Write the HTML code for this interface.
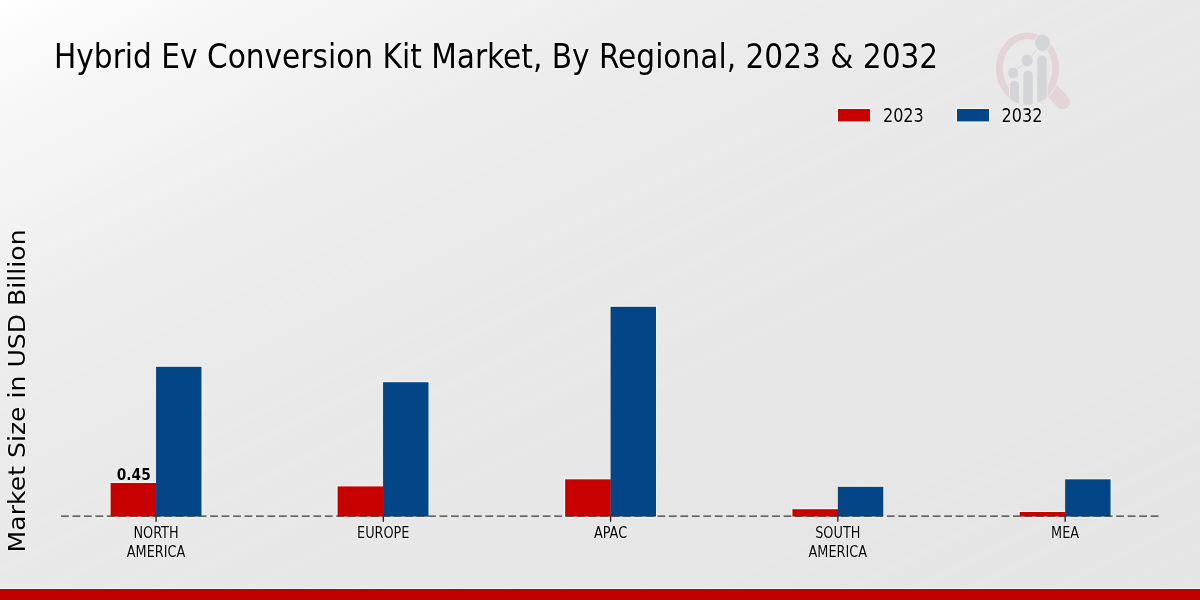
<!DOCTYPE html>
<html>
<head>
<meta charset="utf-8">
<title>Hybrid Ev Conversion Kit Market, By Regional, 2023 &amp; 2032</title>
<style>
html,body{margin:0;padding:0;}
body{width:1200px;height:600px;overflow:hidden;position:relative;
  background:repeating-linear-gradient(153.43deg,rgba(255,255,255,0) 0px,rgba(255,255,255,0.06) 7px,rgba(255,255,255,0) 14px,rgba(255,255,255,0) 30px,rgba(255,255,255,0.06) 35px,rgba(255,255,255,0) 40px,rgba(255,255,255,0) 52px,rgba(255,255,255,0.06) 60px,rgba(255,255,255,0) 68px,rgba(255,255,255,0) 90px),
    linear-gradient(to bottom right,#ffffff 0%,#f8f8f8 8%,#f3f3f3 17%,#ececec 30%,#e9e9e9 45%,#e6e6e6 70%,#e4e4e4 100%);
  font-family:"DejaVu Sans Condensed","DejaVu Sans","Liberation Sans",sans-serif;font-stretch:condensed;color:#000;}
.abs{position:absolute;white-space:nowrap;line-height:1;}
.xl,.leg,#val,#ylabel,#title{text-shadow:0 0 1px #fff,0 0 1.5px #fff,0 0 2px rgba(255,255,255,.8);}
#title{left:54.0px;top:40.2px;font-size:32.95px;transform-origin:0 0;transform:scaleY(1.042);}
#ylabel{left:0;top:0;font-family:"DejaVu Sans","Liberation Sans",sans-serif;font-stretch:normal;font-size:22.3px;
  transform-origin:0 0;transform:translate(5.85px,552.4px) rotate(-90deg) scaleX(1.127);}
.xl{position:absolute;top:523px;width:200px;text-align:center;font-size:14.3px;line-height:18px;white-space:nowrap;transform-origin:50% 0;transform:translateY(0.3px) scaleY(1.06);}
.xl.l2{top:542px;transform:translateY(0.55px) scaleY(1.06);}
#footer{position:absolute;left:0;top:589px;width:1200px;height:11px;background:#c00000;}
#footline{position:absolute;left:0;top:588px;width:1200px;height:1px;background:#f4f8f8;}
.leg{font-size:17.9px;transform-origin:0 0;transform:translate(0.3px,-0.9px) scaleY(1.105);}
#val{font-weight:bold;font-size:15.35px;transform:translate(0.7px,0.55px);}
</style>
</head>
<body>
<div id="title" class="abs">Hybrid Ev Conversion Kit Market, By Regional, 2023 &amp; 2032</div>
<div id="ylabel" class="abs">Market Size in USD Billion</div>

<!-- legend -->
<div class="abs leg" style="left:882.6px;top:105.6px">2023</div>
<div class="abs leg" style="left:1001.3px;top:105.6px">2032</div>

<!-- bars -->
<svg class="abs" style="left:0;top:0" width="1200" height="600" viewBox="0 0 1200 600">
<g fill="#fffaf4" fill-opacity="0.8">
<rect x="836.9" y="107.9" width="34.2" height="14.6"/>
<rect x="955.9" y="107.9" width="34.2" height="14.6"/>
<rect x="109.50" y="481.90" width="46.55" height="35.80"/>
<rect x="156.05" y="365.70" width="46.55" height="152.00"/>
<rect x="336.50" y="485.30" width="46.55" height="32.40"/>
<rect x="383.05" y="381.10" width="46.55" height="136.60"/>
<rect x="564.04" y="478.20" width="46.55" height="39.50"/>
<rect x="610.59" y="305.70" width="46.55" height="212.00"/>
<rect x="791.31" y="508.10" width="46.55" height="9.60"/>
<rect x="837.86" y="485.70" width="46.55" height="32.00"/>
<rect x="1018.58" y="510.90" width="46.55" height="6.80"/>
<rect x="1065.13" y="478.20" width="46.55" height="39.50"/>
</g>
<rect fill="#c80000" x="838" y="109" width="32" height="12.4"/>
<rect fill="#034687" x="957" y="109" width="32" height="12.4"/>
<rect fill="#c80000" x="110.60" y="483.00" width="45.65" height="33.60"/>
<rect fill="#034687" x="156.05" y="366.80" width="45.45" height="149.80"/>
<rect fill="#c80000" x="337.60" y="486.40" width="45.65" height="30.20"/>
<rect fill="#034687" x="383.05" y="382.20" width="45.45" height="134.40"/>
<rect fill="#c80000" x="565.14" y="479.30" width="45.65" height="37.30"/>
<rect fill="#034687" x="610.59" y="306.80" width="45.45" height="209.80"/>
<rect fill="#c80000" x="792.41" y="509.20" width="45.65" height="7.40"/>
<rect fill="#034687" x="837.86" y="486.80" width="45.45" height="29.80"/>
<rect fill="#c80000" x="1019.68" y="512.00" width="45.65" height="4.60"/>
<rect fill="#034687" x="1065.13" y="479.30" width="45.45" height="37.30"/>
</svg>

<div id="val" class="abs" style="left:116px;top:467px">0.45</div>

<!-- baseline -->
<svg class="abs" style="left:0;top:510px" width="1200" height="14">
  <line x1="156.05" y1="6.1" x2="156.05" y2="11.7" stroke="#1a1a1a" stroke-width="1.3"/>
  <line x1="383.32" y1="6.1" x2="383.32" y2="11.7" stroke="#1a1a1a" stroke-width="1.3"/>
  <line x1="610.59" y1="6.1" x2="610.59" y2="11.7" stroke="#1a1a1a" stroke-width="1.3"/>
  <line x1="837.86" y1="6.1" x2="837.86" y2="11.7" stroke="#1a1a1a" stroke-width="1.3"/>
  <line x1="1065.13" y1="6.1" x2="1065.13" y2="11.7" stroke="#1a1a1a" stroke-width="1.3"/>
  <line x1="61" y1="6.1" x2="1160.5" y2="6.1" stroke="#3a3a3a" stroke-width="1.3" stroke-dasharray="7.8 3.67"/>
</svg>

<div class="xl" style="left:56.00px">NORTH</div>
<div class="xl l2" style="left:56.00px">AMERICA</div>
<div class="xl" style="left:283.27px">EUROPE</div>
<div class="xl" style="left:510.55px">APAC</div>
<div class="xl" style="left:737.83px">SOUTH</div>
<div class="xl l2" style="left:737.83px">AMERICA</div>
<div class="xl" style="left:965.10px">MEA</div>

<!-- logo watermark -->
<svg class="abs" style="left:980px;top:20px" width="110" height="100" viewBox="980 20 110 100">
  <defs>
    <clipPath id="cp"><ellipse cx="1027.6" cy="68.6" rx="31.6" ry="36.2"/></clipPath>
    <mask id="mk" maskUnits="userSpaceOnUse" x="980" y="20" width="110" height="100"><rect x="980" y="20" width="110" height="100" fill="#fff"/><ellipse cx="1027.6" cy="68.6" rx="32.5" ry="37.1" fill="#000"/></mask>
  </defs>
  <line x1="1048" y1="85.8" x2="1062.7" y2="102" stroke="#e2d4d7" stroke-width="14.6" stroke-linecap="round" mask="url(#mk)"/>
  <ellipse cx="1027.6" cy="68.6" rx="28.2" ry="32.8" fill="none" stroke="#e2d4d7" stroke-width="6.8"/>
  <g clip-path="url(#cp)">
    <rect x="1009" y="84" width="38.6" height="30" fill="#eaeaea"/>
    <g fill="#d4d5d8">
      <path d="M1010 110 V85.3 a4.5 4.5 0 0 1 9 0 V110 Z"/>
      <path d="M1023.3 110 V75.4 a4.7 4.7 0 0 1 9.4 0 V110 Z"/>
      <path d="M1037.3 110 V60.2 a4.7 4.7 0 0 1 9.4 0 V110 Z"/>
    </g>
  </g>
  <path d="M1013.3 73 L1027.2 60.5 L1042.5 42.8" fill="none" stroke="#d4d5d8" stroke-width="1"/>
  <g fill="#d4d5d8" stroke="#ececec" stroke-width="0.8">
    <ellipse cx="1013.2" cy="73" rx="5.5" ry="6.1"/>
    <ellipse cx="1027.2" cy="60.5" rx="6.1" ry="6.4"/>
    <ellipse cx="1042.5" cy="42.8" rx="7.8" ry="8.75"/>
  </g>
</svg>

<div id="footline"></div>
<div id="footer"></div>
</body>
</html>
